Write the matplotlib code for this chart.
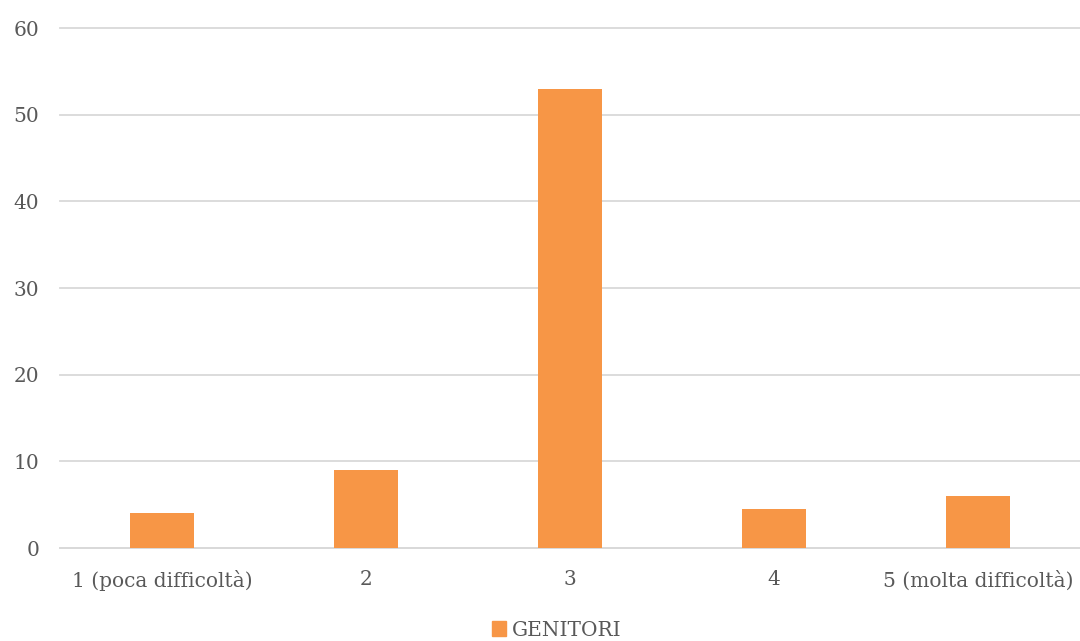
import matplotlib
matplotlib.use("Agg")
import matplotlib.pyplot as plt
from matplotlib.patches import Patch

categories = ["1 (poca difficoltà)", "2", "3", "4", "5 (molta difficoltà)"]
genitori = [4, 9, 53, 4.5, 6]
yticks = [0, 10, 20, 30, 40, 50, 60]

BAR = "#F79646"
TEXT = "#595959"
GRID = "#D9D9D9"

plt.rcParams["font.family"] = ["DejaVu Serif"]

fig = plt.figure(figsize=(10.8, 6.41), dpi=100)
ax = fig.add_axes([60 / 1080, 1 - 548 / 641, 1020 / 1080, 520 / 641])

x = range(len(categories))
ax.bar(x, genitori, width=0.31, color=BAR, zorder=3)

ax.set_xlim(-0.5, len(categories) - 0.5)
ax.set_ylim(0, 60)
ax.set_yticks(yticks)
ax.set_xticks(list(x))
ax.set_xticklabels(categories)
ax.yaxis.grid(True, color=GRID, lw=1.3, zorder=0)
for gl in ax.get_ygridlines():
    gl.set_clip_on(False)
ax.tick_params(axis="both", length=0, labelsize=14.5, colors=TEXT)
ax.tick_params(axis="x", pad=16)
ax.tick_params(axis="y", pad=15)
for s in ("top", "right", "left"):
    ax.spines[s].set_visible(False)
ax.spines["bottom"].set_color(GRID)
ax.spines["bottom"].set_linewidth(1.3)

fig.legend(handles=[Patch(color=BAR, label="GENITORI")], loc="center",
           bbox_to_anchor=(557 / 1080, 1 - 630 / 641), frameon=False,
           fontsize=14.5, labelcolor=TEXT, handlelength=0.7, handleheight=0.7,
           handletextpad=0.3)

fig.savefig("out.png", dpi=100)
